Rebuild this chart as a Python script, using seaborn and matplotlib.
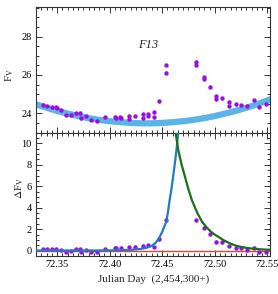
import matplotlib
matplotlib.use("Agg")  # headless
import matplotlib.pyplot as plt
from matplotlib.ticker import MultipleLocator
import pandas as pd
import seaborn as sns

# --- top panel: V-band flux and quiescent baseline ---
day = [72.3367, 72.3400, 72.3454, 72.3487, 72.3500, 72.3536, 72.3584, 72.3633,
       72.3682, 72.3714, 72.3730, 72.3778, 72.3827, 72.3876, 72.3956, 72.4053,
       72.4063, 72.4102, 72.4109, 72.4183, 72.4183, 72.4241, 72.4313, 72.4313,
       72.4361, 72.4367, 72.4420, 72.4420, 72.4474, 72.4532, 72.4532, 72.4824,
       72.4824, 72.4895, 72.4895, 72.4954, 72.5008, 72.5008, 72.5073, 72.5138,
       72.5138, 72.5202, 72.5251, 72.5310, 72.5371, 72.5420, 72.5488]
flux = [24.45, 24.38, 24.31, 24.31, 24.29, 24.17, 23.91, 23.91,
        24.00, 24.00, 23.74, 23.86, 23.65, 23.60, 23.79, 23.82,
        23.74, 23.79, 23.74, 23.86, 23.68, 23.87, 23.96, 23.74,
        23.95, 23.86, 24.05, 23.79, 24.63, 26.12, 26.52, 26.69,
        26.52, 25.88, 25.79, 25.39, 24.90, 24.73, 24.78, 24.61,
        24.38, 24.47, 24.43, 24.38, 24.69, 24.35, 24.47]

base_day = [72.330, 72.340, 72.350, 72.360, 72.370, 72.380, 72.390, 72.400,
            72.410, 72.420, 72.430, 72.440, 72.450, 72.460, 72.470, 72.480,
            72.490, 72.500, 72.510, 72.520, 72.530, 72.540, 72.553]
base_flux = [24.47, 24.29, 24.13, 23.99, 23.86, 23.75, 23.66, 23.59,
             23.54, 23.50, 23.48, 23.48, 23.50, 23.54, 23.59, 23.66,
             23.75, 23.86, 23.99, 24.13, 24.29, 24.47, 24.73]

# --- bottom panel: flare flux above baseline ---
flare_day = [72.3367, 72.3400, 72.3454, 72.3487, 72.3536, 72.3584, 72.3633, 72.3682,
             72.3714, 72.3730, 72.3778, 72.3827, 72.3876, 72.3956, 72.4053, 72.4063,
             72.4109, 72.4183, 72.4241, 72.4313, 72.4361, 72.4420, 72.4474, 72.4532,
             72.4824, 72.4895, 72.4954, 72.5008, 72.5073, 72.5138, 72.5202, 72.5251,
             72.5310, 72.5371, 72.5420, 72.5488]
flare_flux = [0.13, 0.13, 0.13, 0.13, 0.07, -0.09, -0.03, 0.13,
              0.13, -0.09, 0.07, -0.09, -0.09, 0.13, 0.28, 0.22,
              0.28, 0.34, 0.37, 0.47, 0.50, 0.34, 1.06, 2.86,
              2.86, 2.14, 1.53, 0.84, 0.78, 0.44, 0.28, 0.28,
              0.07, 0.28, -0.12, -0.12]

# fitted rise and decay
rise_day = [72.330, 72.380, 72.400, 72.420, 72.430, 72.436, 72.440, 72.444,
            72.4474, 72.4500, 72.4539, 72.4555, 72.4571, 72.4588, 72.4604,
            72.4620, 72.4636, 72.4650, 72.4660]
rise_flux = [0.02, 0.02, 0.03, 0.08, 0.17, 0.30, 0.45, 0.75,
             1.25, 1.75, 2.70, 3.60, 4.72, 5.75, 6.88,
             8.10, 9.37, 10.8, 12.0]

decay_day = [72.4612, 72.4635, 72.4653, 72.4685, 72.4717, 72.4750, 72.4782,
             72.4830, 72.4879, 72.4920, 72.4960, 72.5000, 72.5041, 72.5080,
             72.5120, 72.5160, 72.5202, 72.5240, 72.5280, 72.5320, 72.5364,
             72.5450, 72.5575]
decay_flux = [12.0, 10.5, 9.37, 8.0, 6.88, 5.70, 4.72,
              3.60, 2.70, 2.20, 1.80, 1.50, 1.25, 1.00,
              0.80, 0.62, 0.47, 0.38, 0.30, 0.24, 0.19,
              0.12, 0.07]

xticks = [72.35, 72.40, 72.45, 72.50, 72.55]

PURPLE = "#9a10e0"

sns.set_theme(style="ticks")
plt.rcParams["font.family"] = ["Liberation Serif", "DejaVu Serif"]
plt.rcParams["mathtext.fontset"] = "stix"

fig = plt.figure(figsize=(2.78, 2.94), dpi=100)
ax_top = fig.add_axes([0.1295, 0.5466, 0.8435, 0.4286])
ax_bot = fig.add_axes([0.1295, 0.1293, 0.8435, 0.4173], sharex=ax_top)

top_df = pd.DataFrame({"day": day, "flux": flux})
base_df = pd.DataFrame({"day": base_day, "flux": base_flux})
flare_df = pd.DataFrame({"day": flare_day, "flux": flare_flux})
rise_df = pd.DataFrame({"day": rise_day, "flux": rise_flux})
decay_df = pd.DataFrame({"day": decay_day, "flux": decay_flux})

# top panel
sns.lineplot(data=base_df, x="day", y="flux", ax=ax_top, color="#5ab4e6",
             linewidth=4.5, sort=False, estimator=None)
ax_top.errorbar(day, flux, yerr=0.07, fmt="none", ecolor=PURPLE, elinewidth=1)
sns.scatterplot(data=top_df, x="day", y="flux", ax=ax_top, color=PURPLE,
                s=10, linewidth=0, zorder=3)
ax_top.text(72.437, 27.57, "F13", ha="center", va="center", fontsize=9, style="italic")

# bottom panel
ax_bot.axhline(0, color="#f03c32", linewidth=1)
ax_bot.errorbar(flare_day, flare_flux, yerr=0.12, fmt="none", ecolor=PURPLE, elinewidth=1)
sns.scatterplot(data=flare_df, x="day", y="flux", ax=ax_bot, color=PURPLE,
                s=10, linewidth=0, zorder=3)
sns.lineplot(data=rise_df, x="day", y="flux", ax=ax_bot, color="#1f7cc2",
             linewidth=1.6, sort=False, estimator=None, zorder=4)
sns.lineplot(data=decay_df, x="day", y="flux", ax=ax_bot, color="#187018",
             linewidth=1.6, sort=False, estimator=None, zorder=4)

ax_top.set_xlim(72.33, 72.553)
ax_top.set_ylim(22.96, 29.53)
ax_bot.set_ylim(-0.49, 10.93)

ax_top.set_yticks([24, 26, 28])
ax_top.yaxis.set_minor_locator(MultipleLocator(0.5))
ax_bot.set_yticks([0, 2, 4, 6, 8, 10])
ax_bot.yaxis.set_minor_locator(MultipleLocator(0.5))
ax_bot.set_xticks(xticks)
ax_bot.set_xticklabels([f"{t:.2f}" for t in xticks])
ax_bot.xaxis.set_minor_locator(MultipleLocator(0.005))
ax_top.tick_params(axis="x", labelbottom=False)

for ax in (ax_top, ax_bot):
    ax.set_xlabel("")
    ax.set_ylabel("")
    ax.tick_params(which="both", direction="in", top=True, right=True,
                   labelsize=7.5, width=0.7, colors="#333333", labelcolor="black", pad=3)
    ax.tick_params(which="major", length=4)
    ax.tick_params(which="minor", length=2)
    for sp in ax.spines.values():
        sp.set_linewidth(0.8)
        sp.set_color("#333333")

ax_top.text(-0.11, 0.46, r"F$_\mathrm{V}$", transform=ax_top.transAxes,
            rotation=90, ha="center", va="center", fontsize=8)
ax_bot.text(-0.07, 0.55, r"$\Delta$F$_\mathrm{V}$", transform=ax_bot.transAxes,
            rotation=90, ha="center", va="center", fontsize=8)
ax_bot.set_xlabel("Julian Day  (2,454,300+)", fontsize=8, labelpad=4)

fig.savefig("out.png", dpi=100)
plt.close(fig)
